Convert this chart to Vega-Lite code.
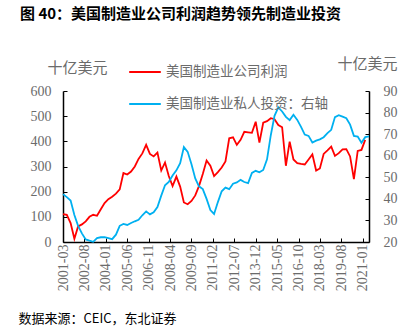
{
  "$schema": "https://vega.github.io/schema/vega-lite/v6.json",
  "width": 306,
  "height": 151,
  "autosize": {"type": "none"},
  "padding": {"left": 63, "top": 91, "right": 44, "bottom": 89},
  "background": "white",
  "title": {
    "text": "图 40：美国制造业公司利润趋势领先制造业投资",
    "anchor": "start",
    "frame": "group",
    "font": "Noto Sans CJK SC",
    "fontSize": 15,
    "fontWeight": "bold",
    "color": "#000000",
    "baseline": "middle",
    "dx": -43,
    "dy": -26,
    "offset": 0
  },
  "config": {
    "view": {"stroke": null},
    "axis": {
      "grid": false,
      "domainColor": "#000000",
      "domainWidth": 1.5,
      "tickColor": "#000000",
      "tickWidth": 1,
      "labelFont": "Times New Roman, Liberation Serif, DejaVu Serif, serif",
      "labelFontSize": 14,
      "labelColor": "#6b6b6b",
      "titleFont": "Noto Sans CJK SC",
      "titleFontWeight": "normal"
    },
    "legend": {
      "labelFont": "Noto Sans CJK SC",
      "labelFontSize": 13.5,
      "labelColor": "#6b6b6b",
      "labelLimit": 400
    }
  },
  "datasets": {
    "profit": [
      {"d": "2001-03", "v": 111}, {"d": "2001-06", "v": 108}, {"d": "2001-09", "v": 75}, {"d": "2001-12", "v": 13},
      {"d": "2002-03", "v": 62}, {"d": "2002-06", "v": 70}, {"d": "2002-09", "v": 82}, {"d": "2002-12", "v": 100},
      {"d": "2003-03", "v": 108}, {"d": "2003-06", "v": 104}, {"d": "2003-09", "v": 130}, {"d": "2003-12", "v": 155},
      {"d": "2004-03", "v": 170}, {"d": "2004-06", "v": 180}, {"d": "2004-09", "v": 192}, {"d": "2004-12", "v": 209},
      {"d": "2005-03", "v": 274}, {"d": "2005-06", "v": 268}, {"d": "2005-09", "v": 280}, {"d": "2005-12", "v": 300},
      {"d": "2006-03", "v": 330}, {"d": "2006-06", "v": 352}, {"d": "2006-09", "v": 386}, {"d": "2006-12", "v": 350},
      {"d": "2007-03", "v": 340}, {"d": "2007-06", "v": 355}, {"d": "2007-09", "v": 284}, {"d": "2007-12", "v": 316},
      {"d": "2008-03", "v": 262}, {"d": "2008-06", "v": 222}, {"d": "2008-09", "v": 260}, {"d": "2008-12", "v": 220},
      {"d": "2009-03", "v": 157}, {"d": "2009-06", "v": 150}, {"d": "2009-09", "v": 163}, {"d": "2009-12", "v": 185},
      {"d": "2010-03", "v": 222}, {"d": "2010-06", "v": 270}, {"d": "2010-09", "v": 324}, {"d": "2010-12", "v": 303},
      {"d": "2011-03", "v": 262}, {"d": "2011-06", "v": 278}, {"d": "2011-09", "v": 296}, {"d": "2011-12", "v": 320},
      {"d": "2012-03", "v": 412}, {"d": "2012-06", "v": 416}, {"d": "2012-09", "v": 386}, {"d": "2012-12", "v": 406},
      {"d": "2013-03", "v": 438}, {"d": "2013-06", "v": 436}, {"d": "2013-09", "v": 434}, {"d": "2013-12", "v": 478},
      {"d": "2014-03", "v": 395}, {"d": "2014-06", "v": 474}, {"d": "2014-09", "v": 480}, {"d": "2014-12", "v": 492},
      {"d": "2015-03", "v": 488}, {"d": "2015-06", "v": 465}, {"d": "2015-09", "v": 456}, {"d": "2015-12", "v": 303},
      {"d": "2016-03", "v": 399}, {"d": "2016-06", "v": 328}, {"d": "2016-09", "v": 313}, {"d": "2016-12", "v": 310},
      {"d": "2017-03", "v": 308}, {"d": "2017-06", "v": 328}, {"d": "2017-09", "v": 348}, {"d": "2017-12", "v": 284},
      {"d": "2018-03", "v": 292}, {"d": "2018-06", "v": 350}, {"d": "2018-09", "v": 364}, {"d": "2018-12", "v": 379},
      {"d": "2019-03", "v": 342}, {"d": "2019-06", "v": 353}, {"d": "2019-09", "v": 368}, {"d": "2019-12", "v": 369},
      {"d": "2020-03", "v": 340}, {"d": "2020-06", "v": 250}, {"d": "2020-09", "v": 362}, {"d": "2020-12", "v": 366},
      {"d": "2021-03", "v": 406}
    ],
    "invest": [
      {"d": "2001-03", "v": 42.2}, {"d": "2001-06", "v": 40.8}, {"d": "2001-09", "v": 39.2}, {"d": "2001-12", "v": 32.5},
      {"d": "2002-03", "v": 27.5}, {"d": "2002-06", "v": 24}, {"d": "2002-09", "v": 21.2}, {"d": "2002-12", "v": 20.6},
      {"d": "2003-03", "v": 20.1}, {"d": "2003-06", "v": 21.8}, {"d": "2003-09", "v": 22.2}, {"d": "2003-12", "v": 22.3},
      {"d": "2004-03", "v": 21.8}, {"d": "2004-06", "v": 21.3}, {"d": "2004-09", "v": 23.4}, {"d": "2004-12", "v": 27.5},
      {"d": "2005-03", "v": 28.4}, {"d": "2005-06", "v": 27.9}, {"d": "2005-09", "v": 28.8}, {"d": "2005-12", "v": 29.6},
      {"d": "2006-03", "v": 30.3}, {"d": "2006-06", "v": 32.4}, {"d": "2006-09", "v": 34.2}, {"d": "2006-12", "v": 32.8},
      {"d": "2007-03", "v": 33.8}, {"d": "2007-06", "v": 36.2}, {"d": "2007-09", "v": 41.5}, {"d": "2007-12", "v": 46.3},
      {"d": "2008-03", "v": 47.8}, {"d": "2008-06", "v": 50.8}, {"d": "2008-09", "v": 53.2}, {"d": "2008-12", "v": 56.5},
      {"d": "2009-03", "v": 64.0}, {"d": "2009-06", "v": 61.8}, {"d": "2009-09", "v": 56}, {"d": "2009-12", "v": 49.5},
      {"d": "2010-03", "v": 45.8}, {"d": "2010-06", "v": 44.5}, {"d": "2010-09", "v": 40}, {"d": "2010-12", "v": 34.8},
      {"d": "2011-03", "v": 33}, {"d": "2011-06", "v": 38.5}, {"d": "2011-09", "v": 43.5}, {"d": "2011-12", "v": 45.2},
      {"d": "2012-03", "v": 44.5}, {"d": "2012-06", "v": 47}, {"d": "2012-09", "v": 47.6}, {"d": "2012-12", "v": 48.8},
      {"d": "2013-03", "v": 47.8}, {"d": "2013-06", "v": 47.3}, {"d": "2013-09", "v": 52}, {"d": "2013-12", "v": 53},
      {"d": "2014-03", "v": 52.3}, {"d": "2014-06", "v": 53.4}, {"d": "2014-09", "v": 58.3}, {"d": "2014-12", "v": 69.5},
      {"d": "2015-03", "v": 78.5}, {"d": "2015-06", "v": 82.4}, {"d": "2015-09", "v": 80.5}, {"d": "2015-12", "v": 78},
      {"d": "2016-03", "v": 76.5}, {"d": "2016-06", "v": 79}, {"d": "2016-09", "v": 76.6}, {"d": "2016-12", "v": 73.4},
      {"d": "2017-03", "v": 69.8}, {"d": "2017-06", "v": 69.2}, {"d": "2017-09", "v": 66.1}, {"d": "2017-12", "v": 67},
      {"d": "2018-03", "v": 67.6}, {"d": "2018-06", "v": 68.6}, {"d": "2018-09", "v": 70.5}, {"d": "2018-12", "v": 72},
      {"d": "2019-03", "v": 77.9}, {"d": "2019-06", "v": 78.8}, {"d": "2019-09", "v": 78.1}, {"d": "2019-12", "v": 77.4},
      {"d": "2020-03", "v": 74.4}, {"d": "2020-06", "v": 69.2}, {"d": "2020-09", "v": 68.9}, {"d": "2020-12", "v": 66},
      {"d": "2021-03", "v": 68.6}, {"d": "2021-06", "v": 69}
    ]
  },
  "encoding": {
    "x": {
      "field": "d",
      "type": "temporal",
      "scale": {"type": "utc", "domain": [{"year": 2001, "month": 3, "date": 1, "utc": true}, {"year": 2021, "month": 6, "date": 1, "utc": true}]},
      "axis": {
        "format": "%Y-%m",
        "labelAngle": -90,
        "labelPadding": 6,
        "tickSize": -4,
        "values": [
          {"year": 2001, "month": 3, "date": 1, "utc": true},
          {"year": 2002, "month": 8, "date": 1, "utc": true},
          {"year": 2004, "month": 1, "date": 1, "utc": true},
          {"year": 2005, "month": 6, "date": 1, "utc": true},
          {"year": 2006, "month": 11, "date": 1, "utc": true},
          {"year": 2008, "month": 4, "date": 1, "utc": true},
          {"year": 2009, "month": 9, "date": 1, "utc": true},
          {"year": 2011, "month": 2, "date": 1, "utc": true},
          {"year": 2012, "month": 7, "date": 1, "utc": true},
          {"year": 2013, "month": 12, "date": 1, "utc": true},
          {"year": 2015, "month": 5, "date": 1, "utc": true},
          {"year": 2016, "month": 10, "date": 1, "utc": true},
          {"year": 2018, "month": 3, "date": 1, "utc": true},
          {"year": 2019, "month": 8, "date": 1, "utc": true},
          {"year": 2021, "month": 1, "date": 1, "utc": true}
        ],
        "title": "数据来源：CEIC，东北证券",
        "titleFontSize": 13,
        "titleColor": "#000000",
        "titleAngle": 0,
        "titleAnchor": "start",
        "titleAlign": "left",
        "titleBaseline": "middle",
        "titleX": -45,
        "titleY": 76
      }
    }
  },
  "layer": [
    {
      "data": {"name": "profit"},
      "mark": {"type": "line", "strokeWidth": 1.8, "interpolate": "linear"},
      "encoding": {
        "y": {
          "field": "v",
          "type": "quantitative",
          "scale": {"domain": [0, 600], "nice": false},
          "axis": {
            "orient": "left",
            "values": [0, 100, 200, 300, 400, 500, 600],
            "tickSize": -4,
            "labelPadding": 16,
            "title": "十亿美元",
            "titleFontSize": 15,
            "titleColor": "#6b6b6b",
            "titleAngle": 0,
            "titleAlign": "center",
            "titleBaseline": "middle",
            "titleX": 14,
            "titleY": -24
          }
        },
        "color": {
          "datum": "美国制造业公司利润",
          "type": "nominal",
          "scale": {"domain": ["美国制造业公司利润", "美国制造业私人投资：右轴"], "range": ["#FF0000", "#00B0F0"]},
          "legend": {
            "title": null,
            "orient": "none",
            "legendX": 65,
            "legendY": -36,
            "symbolType": "stroke",
            "symbolSize": 1000,
            "symbolStrokeWidth": 2,
            "rowPadding": 8,
            "labelOffset": 4,
            "labelLimit": 400,
            "padding": 0
          }
        }
      }
    },
    {
      "data": {"name": "invest"},
      "mark": {"type": "line", "strokeWidth": 1.8, "interpolate": "linear"},
      "encoding": {
        "y": {
          "field": "v",
          "type": "quantitative",
          "scale": {"domain": [20, 90], "nice": false},
          "axis": {
            "orient": "right",
            "values": [20, 30, 40, 50, 60, 70, 80, 90],
            "tickSize": -4,
            "labelPadding": 18,
            "title": "十亿美元",
            "titleFontSize": 15,
            "titleColor": "#6b6b6b",
            "titleAngle": 0,
            "titleAlign": "center",
            "titleBaseline": "middle",
            "titleX": -2,
            "titleY": -28
          }
        },
        "color": {"datum": "美国制造业私人投资：右轴", "type": "nominal"}
      }
    }
  ],
  "resolve": {"scale": {"y": "independent"}}
}
